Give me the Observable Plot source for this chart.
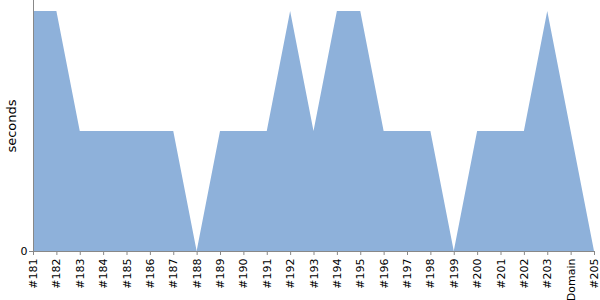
<!DOCTYPE html>
<html><head><meta charset="utf-8">
<script src="https://cdn.jsdelivr.net/npm/d3@7"></script>
<script src="https://cdn.jsdelivr.net/npm/@observablehq/plot@0.6"></script>
<style>body{margin:0;background:#fff;font-family:"DejaVu Sans",sans-serif}</style>
</head><body><div id="chart"></div>
<script>
const builds = ["#181","#182","#183","#184","#185","#186","#187","#188","#189","#190","#191","#192","#193","#194","#195","#196","#197","#198","#199","#200","#201","#202","#203","#204","#205"];
const seconds = [2,2,1,1,1,1,1,0,1,1,1,2,1,2,2,1,1,1,0,1,1,1,2,1,0];
const tickLabels = ["#181","#182","#183","#184","#185","#186","#187","#188","#189","#190","#191","#192","#193","#194","#195","#196","#197","#198","#199","#200","#201","#202","#203","Domain","#205"];
const yTicks = [0];
const data = builds.map((b, i) => ({build: b, value: seconds[i]}));

const chart = Plot.plot({
  width: 600, height: 300,
  marginLeft: 33, marginRight: 6, marginTop: 0, marginBottom: 49,
  style: {fontFamily: "DejaVu Sans, sans-serif", fontSize: "11px", color: "#000", background: "#fff"},
  x: {type: "point", domain: builds, padding: 0, round: false, label: null},
  y: {domain: [0, 2 * 251 / 240], label: null},
  marks: [
    Plot.areaY(data, {x: "build", y: "value", fill: "#8eb1da", curve: "linear"}),
    Plot.axisX({tickRotate: -90, tickSize: 4, tickPadding: 3, tickFormat: (d) => tickLabels[builds.indexOf(d)], fontSize: 11, stroke: "#888"}),
    Plot.axisY({ticks: yTicks, tickSize: 4, tickPadding: 2, tickFormat: d => String(d), fontSize: 11, stroke: "#888", label: null}),
    Plot.ruleX([builds[0]], {x: d => d, stroke: "#888"}),
    Plot.ruleY([0], {stroke: "#888"}),
    Plot.text(["seconds"], {frameAnchor: "left", textAnchor: "middle", dx: -22, rotate: -90, fontSize: 13, text: d => d, fill: "#000"})
  ]
});
document.getElementById("chart").appendChild(chart);
</script></body></html>
